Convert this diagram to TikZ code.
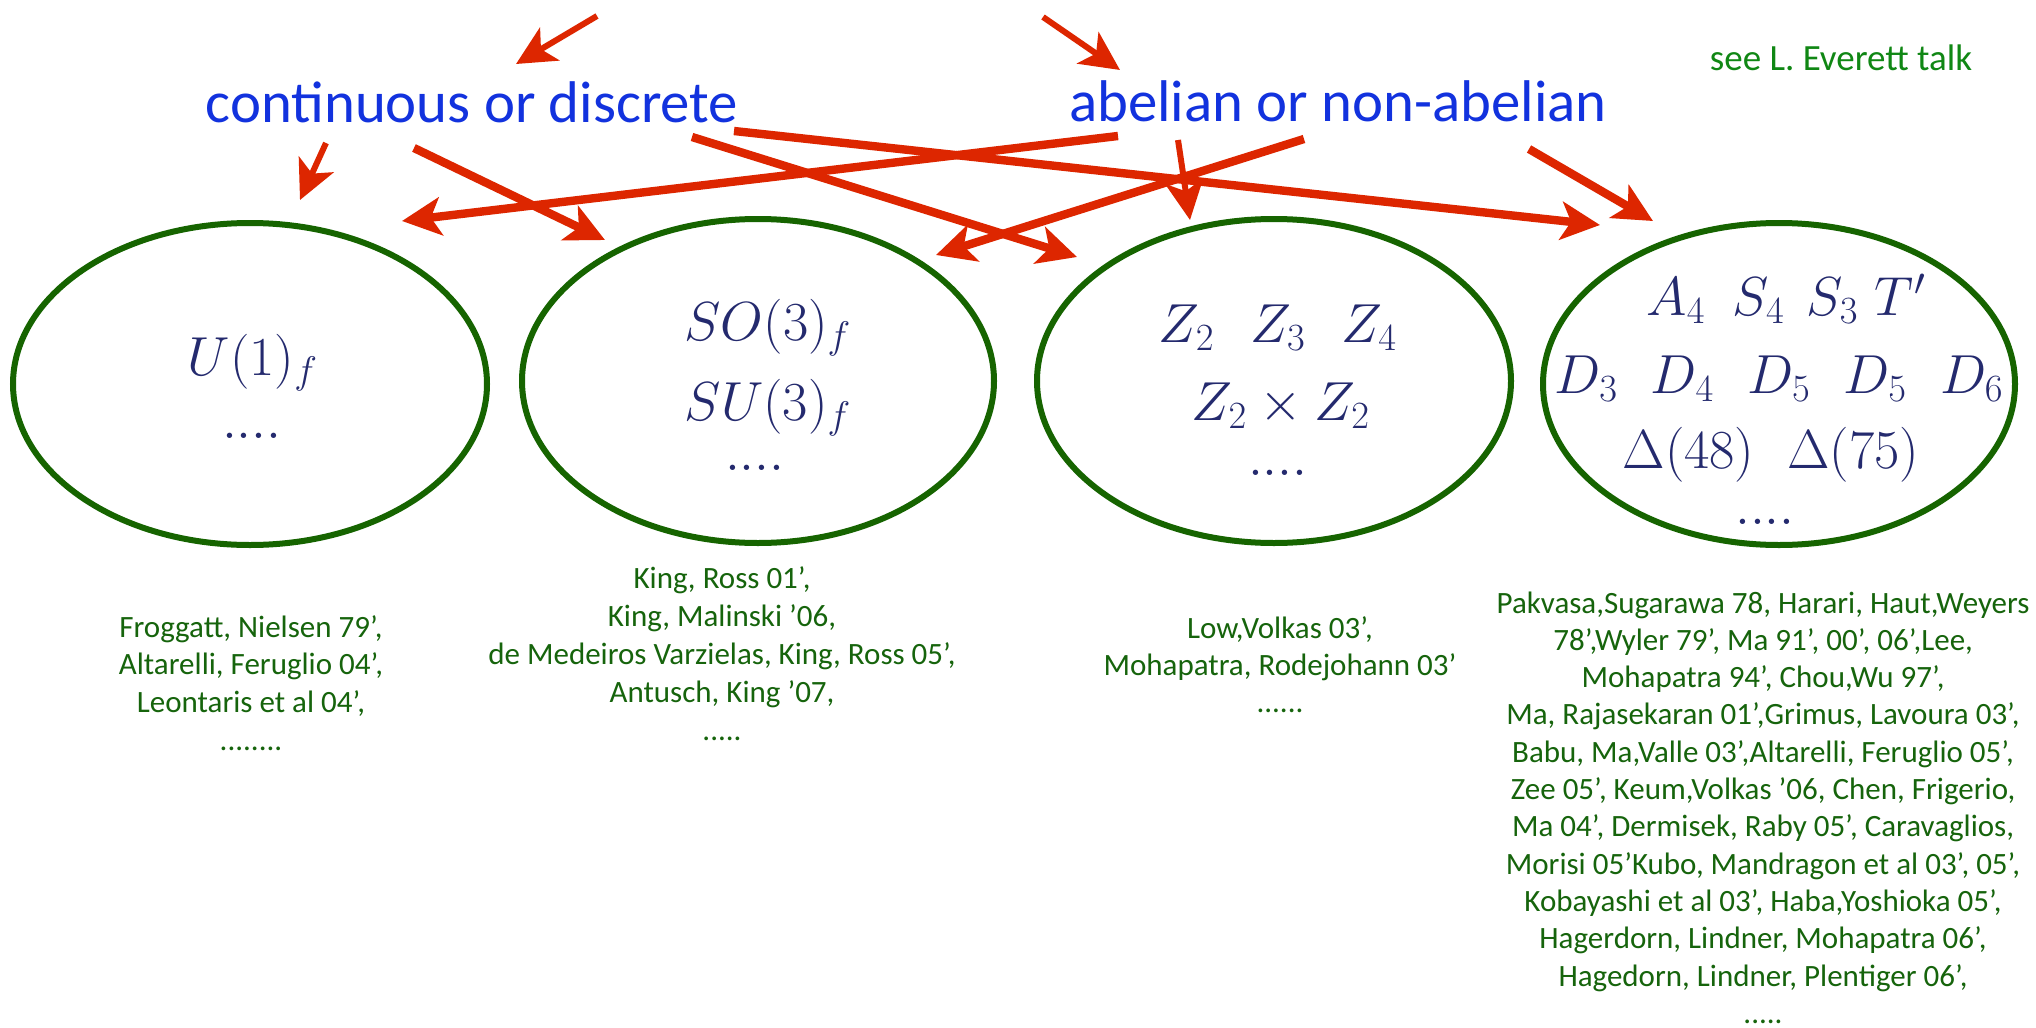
\RequirePackage{fix-cm}
\documentclass[tikz,border=0pt]{standalone}
\usepackage[no-math]{fontspec}
\newfontfamily\gill{Carlito}
\usetikzlibrary{arrows.meta,shapes.geometric}

\definecolor{arrowred}{RGB}{221,38,0}
\definecolor{labelblue}{RGB}{18,50,222}
\definecolor{ringgreen}{RGB}{22,100,0}
\definecolor{refgreen}{RGB}{22,100,12}
\definecolor{notegreen}{RGB}{16,135,20}
\definecolor{groupnavy}{RGB}{36,42,110}

\tikzset{
  ring/.style={ellipse, draw=ringgreen, line width=3pt, inner sep=0pt},
  groupsym/.style={text=groupnavy, inner sep=0pt, anchor=base,
    font=\fontsize{27.5}{33}\selectfont},
  heading/.style={text=labelblue, inner sep=0pt, anchor=base,
    font=\gill\fontsize{29.4}{35}\selectfont},
  refs/.style={text=refgreen, inner sep=0pt, anchor=base,
    font=\gill\fontsize{15.5}{18.6}\selectfont},
  note/.style={text=notegreen, inner sep=0pt, anchor=base,
    font=\gill\fontsize{18.5}{22}\selectfont},
  link/.style={draw=arrowred, line width=4.2pt,
    -{Stealth[length=19.5pt,width=19pt,inset=5pt]}},
  thinlink/.style={link, line width=3pt},
}

\begin{document}
\begin{tikzpicture}[x=0.5pt,y=-0.5pt]
\useasboundingbox (0,0) rectangle (2036,1028);
\fill[white] (0,0) rectangle (2036,1028);

% headings
\node[heading] (cd) at (472,122) {continuous or discrete};
\node[heading] (ab) at (1338,121) {abelian or non-abelian};
\node[note] (talk) at (1841,70) {see L. Everett talk};

% the four families of flavour groups
\node[ring, minimum width=237pt, minimum height=161pt] (e1) at (250,384) {};
\node[ring, minimum width=236pt, minimum height=162pt] (e2) at (758,381) {};
\node[ring, minimum width=237pt, minimum height=162pt] (e3) at (1274,381) {};
\node[ring, minimum width=236pt, minimum height=161pt] (e4) at (1779,384) {};

\node[groupsym] (u1) at (253,375) {$U(1)_f$};
\node[groupsym] (u1dots) at (252,438) {$....$};

\node[groupsym] (so3) at (768,340) {$SO(3)_f$};
\node[groupsym] (su3) at (768,420) {$SU(3)_f$};
\node[groupsym] (su3dots) at (755,470) {$....$};

\node[groupsym] (zn) at (1278,342) {$Z_2\hspace{0.65em}Z_3\hspace{0.65em}Z_4$};
\node[groupsym] (z2z2) at (1281,420) {$Z_2\times Z_2$};
\node[groupsym] (zdots) at (1278,475) {$....$};

\node[groupsym] (an) at (1786,315) {$A_4\hspace{0.5em}S_4\hspace{0.4em}S_3\hspace{0.3em}T'$};
\node[groupsym] (dn) at (1779,393) {$D_3\hspace{0.6em}D_4\hspace{0.6em}D_5\hspace{0.6em}D_5\hspace{0.6em}D_6$};
\node[groupsym] (delta) at (1771,468) {$\Delta(48)\hspace{0.6em}\Delta(75)$};
\node[groupsym] (ddots) at (1765,524) {$....$};

% references below each family
\foreach \t [count=\i from 0] in {{Froggatt, Nielsen 79’,},{Altarelli, Feruglio 04’,},
  {Leontaris et al 04’,}}
  \node[refs] (ra-\i) at (251,{637+\i*37.7}) {\t};
\node[refs] (ra-dots) at (251,750) {........};

\foreach \t [count=\i from 0] in {{King, Ross 01’,},{King, Malinski ’06,},
  {de Medeiros Varzielas, King, Ross 05’,},{Antusch, King ’07,}}
  \node[refs] (rb-\i) at (722,{588+\i*38}) {\t};
\node[refs] (rb-dots) at (722,740) {.....};

\foreach \t [count=\i from 0] in {{Low,Volkas 03’,},{Mohapatra, Rodejohann 03’}}
  \node[refs] (rc-\i) at (1280,{638+\i*37}) {\t};
\node[refs] (rc-dots) at (1280,712) {......};

\foreach \t [count=\i from 0] in {
  {Pakvasa,Sugarawa 78, Harari, Haut,Weyers},
  {78’,Wyler 79’, Ma 91’, 00’, 06’,Lee,},
  {Mohapatra 94’, Chou,Wu 97’,},
  {Ma, Rajasekaran 01’,Grimus, Lavoura 03’,},
  {Babu, Ma,Valle 03’,Altarelli, Feruglio 05’,},
  {Zee 05’, Keum,Volkas ’06, Chen, Frigerio,},
  {Ma 04’, Dermisek, Raby 05’, Caravaglios,},
  {Morisi 05’Kubo, Mandragon et al 03’, 05’,},
  {Kobayashi et al 03’, Haba,Yoshioka 05’,},
  {Hagerdorn, Lindner, Mohapatra 06’,},
  {Hagedorn, Lindner, Plentiger 06’,}}
  \node[refs] (rd-\i) at (1763,{613+\i*37.3}) {\t};
\node[refs] (rd-dots) at (1763,1023) {.....};

% classification arrows
\coordinate (src1) at (597,16);
\coordinate (src2) at (1043,17);
\draw[thinlink] (src1) -- ([shift={(44,-58)}]cd.base);
\draw[thinlink] (src2) -- ([shift={(-218,-51)}]ab.base);

\draw[thinlink] ([shift={(-146,21)}]cd.base) -- ([shift={(50,-20)}]e1.north);
\draw[link] ([shift={(-58,26)}]cd.base) -- ([shift={(-153,24)}]e2.north);
\draw[link] ([shift={(220,15)}]cd.base) -- ([shift={(-197,41)}]e3.north);
\draw[link] ([shift={(262,9)}]cd.base) -- ([shift={(-179,5)}]e4.north);

\draw[link] ([shift={(-220,15)}]ab.base) -- ([shift={(152,1)}]e1.north);
\draw[link] ([shift={(-34,18)}]ab.base) -- ([shift={(178,39)}]e2.north);
\draw[thinlink] ([shift={(-160,19)}]ab.base) -- ([shift={(-84,4)}]e3.north);
\draw[link] ([shift={(191,28)}]ab.base) -- ([shift={(-126,1)}]e4.north);
\end{tikzpicture}
\end{document}
